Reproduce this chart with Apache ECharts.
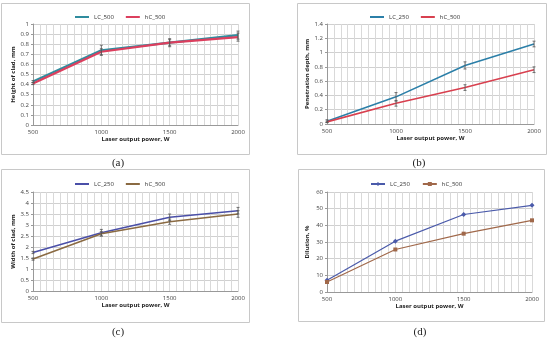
<!DOCTYPE html>
<html><head><meta charset="utf-8">
<script src="https://cdn.jsdelivr.net/npm/echarts@6/dist/echarts.min.js"></script>
<style>html,body{margin:0;padding:0;background:#fff}#c{width:550px;height:338px}</style>
</head><body><div id="c"></div>
<script>
const powers = [500, 1000, 1500, 2000];
const xTickLabels = ['500', '1000', '1500', '2000'];

// (a) Height of clad
const a_LC500 = [0.43, 0.74, 0.815, 0.89];
const a_hC500 = [0.41, 0.725, 0.815, 0.87];
const a_err_LC = [0.01, 0.05, 0.04, 0.04];
const a_err_hC = [0.01, 0.03, 0.03, 0.04];
// (b) Penetration depth
const b_LC250 = [0.04, 0.38, 0.82, 1.12];
const b_hC500 = [0.03, 0.29, 0.51, 0.76];
const b_err_LC = [0.02, 0.06, 0.05, 0.04];
const b_err_hC = [0.01, 0.04, 0.04, 0.04];
// (c) Width of clad
const c_LC250 = [1.75, 2.65, 3.35, 3.65];
const c_hC500 = [1.45, 2.6, 3.15, 3.5];
const c_err_LC = [0.05, 0.15, 0.15, 0.15];
const c_err_hC = [0.05, 0.1, 0.12, 0.15];
// (d) Dilution
const d_LC250 = [7, 30.5, 46.5, 52];
const d_hC500 = [6, 25.5, 35, 43];

const panels = [
  {grid:{left:33, top:24, width:205, height:101}, yName:'Height of clad, mm', max:1, interval:0.1,
   names:['LC_500','hC_500'], data:[a_LC500,a_hC500], err:[a_err_LC,a_err_hC], colors:['#2f8c9e','#dc3f5e'], width:2.2, legendX:128, legendY:9, sym:['none','none']},
  {grid:{left:327, top:24, width:207, height:100}, yName:'Penetration depth, mm', max:1.4, interval:0.2,
   names:['LC_250','hC_500'], data:[b_LC250,b_hC500], err:[b_err_LC,b_err_hC], colors:['#2b7fa8','#d8404f'], width:1.6, legendX:423, legendY:9, sym:['none','none']},
  {grid:{left:33, top:192, width:205, height:99}, yName:'Width of clad, mm', max:4.5, interval:0.5,
   names:['LC_250','hC_500'], data:[c_LC250,c_hC500], err:[c_err_LC,c_err_hC], colors:['#4a4fa8','#8a6a42'], width:1.6, legendX:128, legendY:176, sym:['none','none']},
  {grid:{left:327, top:192, width:205, height:100}, yName:'Dilution, %', max:60, interval:10,
   names:['LC_250','hC_500'], data:[d_LC250,d_hC500], err:null, colors:['#4a5aaa','#a0684a'], width:1.2, legendX:423, legendY:176, sym:['diamond','rect']}
];

const grids=[], xAxes=[], yAxes=[], series=[], legends=[];
const labelFont = {fontFamily:'Open Sans', fontSize:6, color:'#444'};
panels.forEach((p,i)=>{
  grids.push(p.grid);
  xAxes.push({type:'value', gridIndex:i, min:500, max:2000, interval:50,
    name:'Laser output power, W', nameLocation:'middle', nameGap:11,
    nameTextStyle:{fontFamily:'Open Sans', fontSize:6, fontWeight:'bold', color:'#222'},
    axisLine:{lineStyle:{color:'#999'}}, axisTick:{show:false},
    axisLabel:Object.assign({margin:4, showMinLabel:true, showMaxLabel:true, formatter:v=>{const k=powers.indexOf(v);return k>=0?xTickLabels[k]:'';}}, labelFont),
    splitLine:{show:true, lineStyle:{color:'#d9d9d9', width:1}}});
  yAxes.push({type:'value', gridIndex:i, min:0, max:p.max, interval:p.interval,
    name:p.yName, nameLocation:'middle', nameGap:17, nameRotate:90,
    nameTextStyle:{fontFamily:'Open Sans', fontSize:6, fontWeight:'bold', color:'#222'},
    axisLine:{show:true, lineStyle:{color:'#999'}}, axisTick:{show:true, length:2, lineStyle:{color:'#999'}},
    axisLabel:Object.assign({margin:4, formatter:v=>String(+v.toFixed(2))}, labelFont),
    splitLine:{show:true, lineStyle:{color:'#d0d0d0', width:1}}});
  const sNames=[];
  p.names.forEach((n,j)=>{
    const sName = i + ':' + n; sNames.push(sName);
    series.push({type:'line', name:sName, xAxisIndex:i, yAxisIndex:i,
      data:powers.map((x,k)=>[x,p.data[j][k]]),
      symbol:p.sym[j], symbolSize:j===0?5:4, showSymbol:p.sym[j]!=='none',
      lineStyle:{color:p.colors[j], width:p.width}, itemStyle:{color:p.colors[j]},
      animation:false, z:3});
    if(p.err){
      const e=p.err[j], vals=p.data[j];
      series.push({type:'custom', xAxisIndex:i, yAxisIndex:i, z:4, animation:false, silent:true,
        data:powers.map((x,k)=>[x, vals[k]-e[k], vals[k]+e[k]]),
        renderItem:(params,api)=>{
          const lo=api.coord([api.value(0),api.value(1)]), hi=api.coord([api.value(0),api.value(2)]);
          const w=1.5, st={stroke:'#555', lineWidth:0.8};
          return {type:'group', children:[
            {type:'line', shape:{x1:lo[0],y1:lo[1],x2:hi[0],y2:hi[1]}, style:st},
            {type:'line', shape:{x1:lo[0]-w,y1:lo[1],x2:lo[0]+w,y2:lo[1]}, style:st},
            {type:'line', shape:{x1:hi[0]-w,y1:hi[1],x2:hi[0]+w,y2:hi[1]}, style:st}]};
        }});
    }
  });
  const plain = p.sym[0]==='none';
  legends.push({data:sNames.map(n=>plain?{name:n, icon:'rect'}:{name:n}),
    formatter:n=>n.split(':')[1],
    orient:'horizontal', left:p.legendX-58, width:120, top:p.legendY,
    itemWidth:14, itemHeight:plain?2:5, itemGap:12,
    textStyle:{fontFamily:'Open Sans', fontSize:6, color:'#333'}, selectedMode:false});
});

const boxes=[[1,3,248,151],[297,3,249,151],[1,169,248,153],[298,169,246,152]];
const caps=[['(a)',118,163],['(b)',419,163],['(c)',118,332],['(d)',420,332]];
const graphic=[];
boxes.forEach(b=>graphic.push({type:'rect', shape:{x:b[0]+0.5,y:b[1]+0.5,width:b[2],height:b[3]}, style:{fill:null, stroke:'#c8c8c8', lineWidth:1}, silent:true}));
caps.forEach(c=>graphic.push({type:'text', x:c[1], y:c[2], style:{text:c[0], font:'11px "Liberation Serif"', fill:'#222', textAlign:'center', textVerticalAlign:'middle'}}));

const chart=echarts.init(document.getElementById('c'),null,{renderer:'canvas'});
chart.setOption({animation:false, grid:grids, xAxis:xAxes, yAxis:yAxes, series:series, legend:legends, graphic:graphic});
</script></body></html>
